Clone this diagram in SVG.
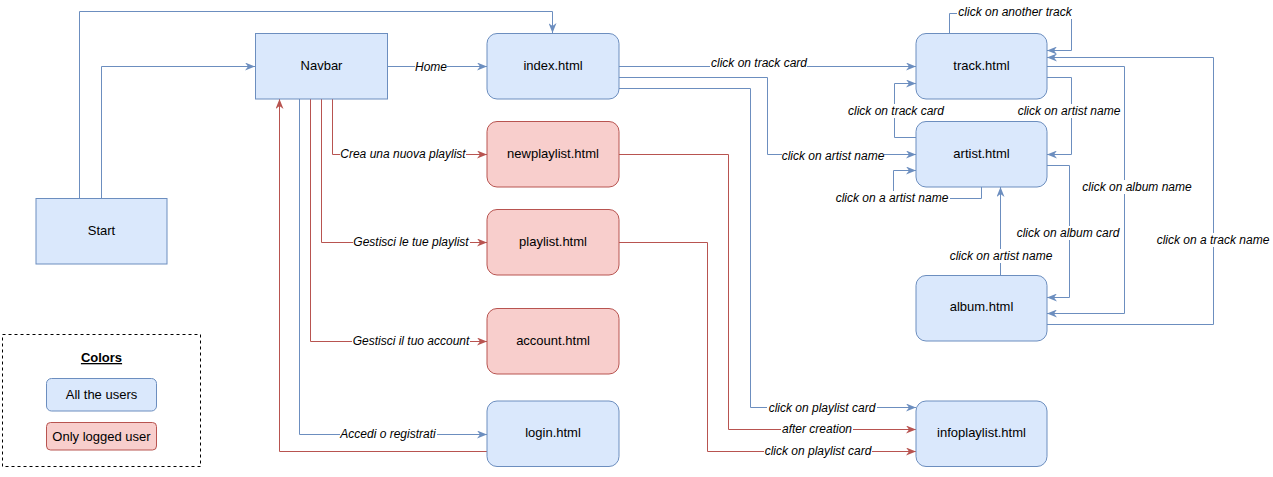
<svg xmlns="http://www.w3.org/2000/svg" width="1273" height="477" viewBox="0 0 1273 477">
<style>
.b{fill:#dae8fc;stroke:#6c8ebf;stroke-width:1}
.r{fill:#f8cecc;stroke:#b85450;stroke-width:1}
.t{font-family:"Liberation Sans",Arial,sans-serif;font-size:13px;fill:#000;text-anchor:middle}
.l{font-family:"Liberation Sans",Arial,sans-serif;font-size:12px;font-style:italic;fill:#000;text-anchor:middle}
.lb{fill:#fff}
.eb{fill:none;stroke:#6c8ebf;stroke-width:1}
.er{fill:none;stroke:#b85450;stroke-width:1}
</style>
<defs>
<marker id="ab" viewBox="0 0 10 8" markerWidth="10" markerHeight="8" refX="10" refY="4" orient="auto" markerUnits="userSpaceOnUse"><path d="M0,0 L10,4 L0,8 L3,4 Z" fill="#6c8ebf"/></marker>
<marker id="ar" viewBox="0 0 10 8" markerWidth="10" markerHeight="8" refX="10" refY="4" orient="auto" markerUnits="userSpaceOnUse"><path d="M0,0 L10,4 L0,8 L3,4 Z" fill="#b85450"/></marker>
</defs>
<rect width="1273" height="477" fill="#fff"/>
<g id="connectors">
<path class="eb" marker-end="url(#ab)" d="M79.5,198 V11.5 H552.5 V33"/>
<path class="eb" marker-end="url(#ab)" d="M101.5,198 V66.5 H255"/>
<path class="eb" marker-end="url(#ab)" d="M387.5,66.5 H487"/>
<path class="eb" marker-end="url(#ab)" d="M299.5,99 V434.5 H487"/>
<path class="eb" marker-end="url(#ab)" d="M619,66.5 H916"/>
<path class="eb" marker-end="url(#ab)" d="M619,77.5 H767.5 V154.5 H916"/>
<path class="eb" marker-end="url(#ab)" d="M619,88.5 H750.5 V407.5 H916"/>
<path class="eb" marker-end="url(#ab)" d="M949.5,33 V13.5 H1071.5 V50.5 H1047"/>
<path class="eb" marker-end="url(#ab)" d="M1047,77.5 H1071.5 V154.5 H1047"/>
<path class="eb" marker-end="url(#ab)" d="M916,137.5 H894.5 V83.5 H916"/>
<path class="eb" marker-end="url(#ab)" d="M981.5,187 V198.5 H893.5 V170.5 H916"/>
<path class="eb" marker-end="url(#ab)" d="M1000.5,275 V187"/>
<path class="eb" marker-end="url(#ab)" d="M1047,165.5 H1069.5 V297.5 H1047"/>
<path class="eb" marker-end="url(#ab)" d="M1047,66.5 H1124.5 V313.5 H1047"/>
<path class="eb" marker-end="url(#ab)" d="M1047,324.5 H1213.5 V57.5 H1047"/>
<path class="er" marker-end="url(#ar)" d="M332.5,99 V154.5 H487"/>
<path class="er" marker-end="url(#ar)" d="M321.5,99 V242.5 H487"/>
<path class="er" marker-end="url(#ar)" d="M310.5,99 V341.5 H487"/>
<path class="er" marker-end="url(#ar)" d="M487,451.5 H279.5 V99"/>
<path class="er" marker-end="url(#ar)" d="M619,154.5 H728.5 V429.5 H916"/>
<path class="er" marker-end="url(#ar)" d="M619,242.5 H707.5 V451.5 H916"/>
<g id="labels">
<rect class="lb" x="415" y="60" width="32" height="14"/><text class="l" x="431" y="71.2">Home</text>
<rect class="lb" x="340" y="147" width="126" height="14"/><text class="l" x="403" y="158.2">Crea una nuova playlist</text>
<rect class="lb" x="353" y="235" width="117" height="14"/><text class="l" x="411" y="246.2">Gestisci le tue playlist</text>
<rect class="lb" x="352" y="334" width="118" height="14"/><text class="l" x="411" y="345.2">Gestisci il tuo account</text>
<rect class="lb" x="340" y="427" width="97" height="14"/><text class="l" x="388" y="438.2">Accedi o registrati</text>
<rect class="lb" x="710" y="56" width="97" height="14"/><text class="l" x="759" y="67.2">click on track card</text>
<rect class="lb" x="782" y="149" width="102" height="14"/><text class="l" x="833" y="160.2">click on artist name</text>
<rect class="lb" x="767" y="401" width="110" height="14"/><text class="l" x="822" y="412.2">click on playlist card</text>
<rect class="lb" x="781" y="422" width="72" height="14"/><text class="l" x="817" y="433.2">after creation</text>
<rect class="lb" x="764" y="444" width="108" height="14"/><text class="l" x="818" y="455.2">click on playlist card</text>
<rect class="lb" x="957" y="5" width="116" height="14"/><text class="l" x="1015" y="16.2">click on another track</text>
<rect class="lb" x="847" y="104" width="98" height="14"/><text class="l" x="896" y="115.2">click on track card</text>
<rect class="lb" x="1017" y="104" width="104" height="14"/><text class="l" x="1069" y="115.2">click on artist name</text>
<rect class="lb" x="835" y="191" width="115" height="14"/><text class="l" x="892" y="202.2">click on a artist name</text>
<rect class="lb" x="1081" y="180" width="112" height="14"/><text class="l" x="1137" y="191.2">click on album name</text>
<rect class="lb" x="1016" y="226" width="105" height="14"/><text class="l" x="1068" y="237.2">click on album card</text>
<rect class="lb" x="949" y="249" width="104" height="14"/><text class="l" x="1001" y="260.2">click on artist name</text>
<rect class="lb" x="1156" y="233" width="115" height="14"/><text class="l" x="1213" y="244.2">click on a track name</text>
</g>
</g>
<g id="start"><rect class="b" x="36" y="198.5" width="131" height="65.5"/><text class="t" x="101.5" y="234.5">Start</text></g>
<g id="navbar"><rect class="b" x="255.5" y="33.5" width="132" height="65.5"/><text class="t" x="321.5" y="69.5">Navbar</text></g>
<g id="index"><rect class="b" x="487" y="33.5" width="132" height="65.5" rx="10"/><text class="t" x="553" y="69.5">index.html</text></g>
<g id="newplaylist"><rect class="r" x="487" y="121.5" width="132" height="65.5" rx="10"/><text class="t" x="553" y="157.5">newplaylist.html</text></g>
<g id="playlist"><rect class="r" x="487" y="209.5" width="132" height="65.5" rx="10"/><text class="t" x="553" y="245.5">playlist.html</text></g>
<g id="account"><rect class="r" x="487" y="308.5" width="132" height="65.5" rx="10"/><text class="t" x="553" y="344.5">account.html</text></g>
<g id="login"><rect class="b" x="487" y="401" width="132" height="65.5" rx="10"/><text class="t" x="553" y="437">login.html</text></g>
<g id="track"><rect class="b" x="916" y="33.5" width="131" height="65.5" rx="10"/><text class="t" x="981.5" y="69.5">track.html</text></g>
<g id="artist"><rect class="b" x="916" y="121.5" width="131" height="65.5" rx="10"/><text class="t" x="981.5" y="157.5">artist.html</text></g>
<g id="album"><rect class="b" x="916" y="275.5" width="131" height="65.5" rx="10"/><text class="t" x="981.5" y="311">album.html</text></g>
<g id="infoplaylist"><rect class="b" x="916" y="401" width="131" height="65.5" rx="10"/><text class="t" x="981.5" y="437">infoplaylist.html</text></g>
<g id="legend">
<rect x="2.5" y="334.5" width="198" height="132" fill="none" stroke="#000" stroke-dasharray="3 3"/>
<text class="t" x="101.5" y="362" font-weight="bold" text-decoration="underline">Colors</text>
<rect class="b" x="46.5" y="378.5" width="110" height="32.5" rx="5"/><text class="t" x="101.5" y="399">All the users</text>
<rect class="r" x="46.5" y="422.5" width="110" height="27.5" rx="4"/><text class="t" x="101.5" y="440.5">Only logged user</text>
</g>
</svg>
